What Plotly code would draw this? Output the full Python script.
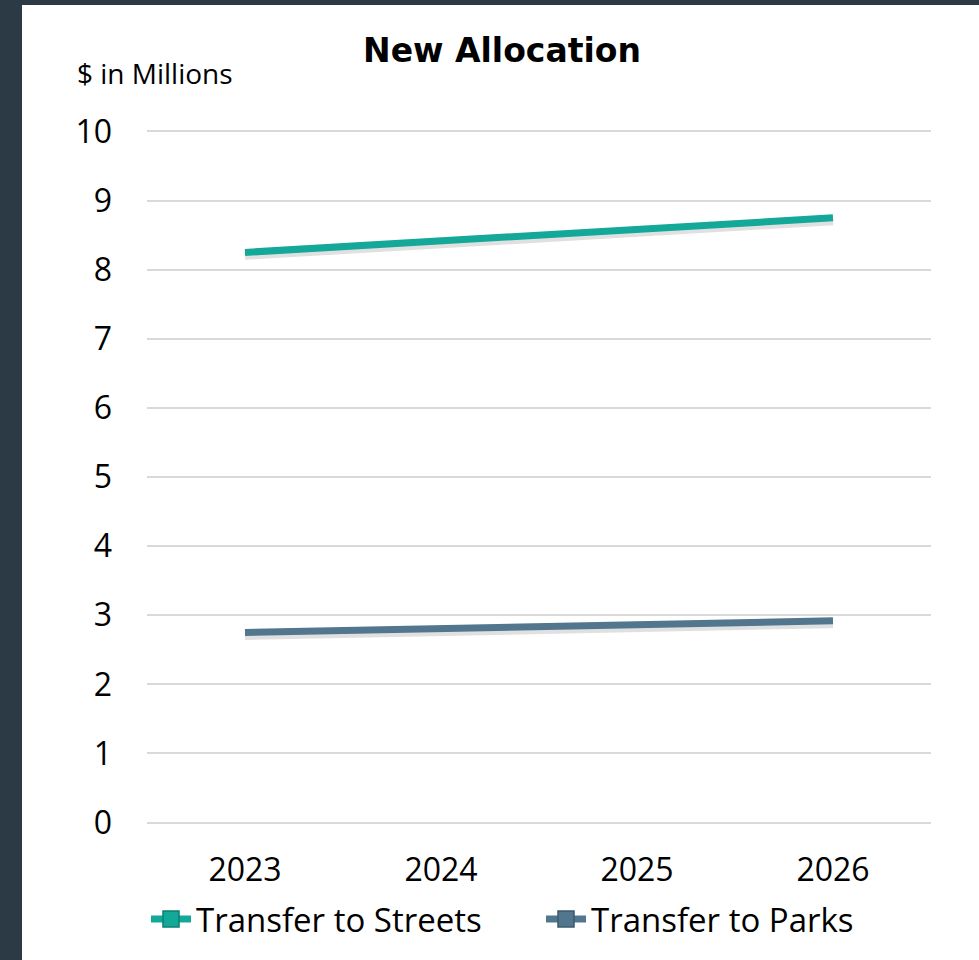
import plotly.graph_objects as go

years = ["2023", "2024", "2025", "2026"]
streets = [8.25, 8.42, 8.58, 8.75]
parks = [2.75, 2.80, 2.86, 2.92]
y_ticks = [0, 1, 2, 3, 4, 5, 6, 7, 8, 9, 10]

FONT = "'Open Sans', Lato, sans-serif"
TITLE_FONT = "'DejaVu Sans', 'Open Sans', sans-serif"
TEAL = "#13a898"
SLATE = "#52768d"

fig = go.Figure()

# soft shadows
for vals in (streets, parks):
    fig.add_trace(go.Scatter(x=years, y=[v - 0.05 for v in vals], mode="lines",
                             line=dict(color="rgba(0,0,0,0.12)", width=8),
                             hoverinfo="skip", showlegend=False))

fig.add_trace(go.Scatter(x=years, y=streets, mode="lines", name="Transfer to Streets",
                         line=dict(color=TEAL, width=7), showlegend=False))
fig.add_trace(go.Scatter(x=years, y=parks, mode="lines", name="Transfer to Parks",
                         line=dict(color=SLATE, width=7), showlegend=False))

# legend entries
for name, col, edge in (("Transfer to Streets", TEAL, "#0d7f73"), ("Transfer to Parks", SLATE, "#3b5a6d")):
    fig.add_trace(go.Scatter(x=[None], y=[None], mode="lines+markers", name=name,
                             line=dict(color=col, width=7),
                             marker=dict(symbol="square", size=20, color=col,
                                         line=dict(color=edge, width=1.5))))

W, H = 979, 960
L, R, T, B = 147, 48, 128, 134
pw, ph = W - L - R, H - T - B

def px_x(x):
    return (x - L) / pw

def px_y(y):
    return (H - B - y) / ph

fig.add_shape(type="rect", xref="paper", yref="paper", layer="below",
              x0=px_x(22), x1=px_x(1000), y0=px_y(1000), y1=px_y(5),
              fillcolor="white", line=dict(width=0))

fig.update_layout(
    width=W, height=H,
    margin=dict(l=L, r=R, t=T, b=B),
    paper_bgcolor="#2c3a45",
    plot_bgcolor="white",
    font=dict(family=FONT, size=32, color="#000000"),
    title=dict(text="<b>New Allocation</b>", x=px_x(502), xanchor="center",
               xref="paper", y=1 - 50 / H, yanchor="middle",
               font=dict(family=TITLE_FONT, size=33, color="#000000")),
    showlegend=True,
    legend=dict(orientation="h", x=px_x(146), xanchor="left", y=px_y(919), yanchor="middle",
                font=dict(family=FONT, size=33, color="#000000"),
                bgcolor="rgba(0,0,0,0)", itemwidth=40, entrywidth=340),
    annotations=[dict(text="$ in Millions", xref="paper", yref="paper",
                      x=px_x(75), xanchor="left", y=px_y(73), yanchor="middle",
                      showarrow=False, font=dict(family=FONT, size=28, color="#000000"))],
)

fig.update_xaxes(type="category", range=[-0.5, 3.5], showgrid=False, zeroline=False,
                 showline=False, ticks="", ticklabelstandoff=22,
                 tickfont=dict(family=FONT, size=32, color="#000000"))
fig.update_yaxes(range=[-0.05, 10.05], tickvals=y_ticks, showgrid=True, gridcolor="#d9d9d9",
                 gridwidth=2, zeroline=False, showline=False, ticks="",
                 ticklabelstandoff=34,
                 tickfont=dict(family=FONT, size=32, color="#000000"))

fig.write_html("out.html", config={"displayModeBar": False},
               post_script="document.body.style.margin='0';document.body.style.overflow='hidden';"
                           "document.body.style.background='#2c3a45';")
